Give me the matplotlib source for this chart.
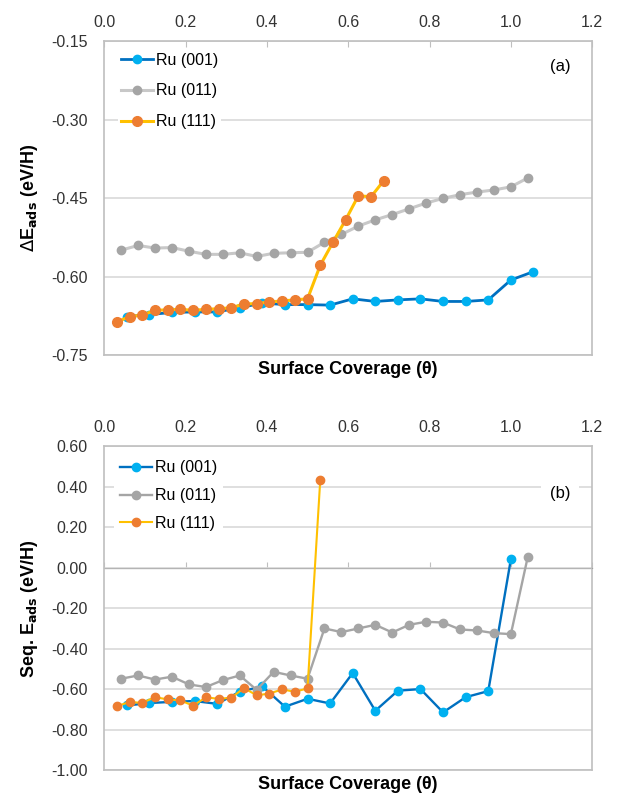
import numpy as np
import matplotlib
matplotlib.use("Agg")
from matplotlib import pyplot as plt

plt.rcParams['font.family'] = ['Liberation Sans', 'DejaVu Sans']

# (a) adsorption energy vs coverage
x001_a = np.arange(1, 20) / 18
x011_a = np.arange(1, 26) / 24
x111_a = np.arange(1, 23) / 32
e001_a = [-0.676, -0.672, -0.668, -0.667, -0.667, -0.659, -0.650, -0.653, -0.653, -0.654,
          -0.642, -0.647, -0.644, -0.642, -0.647, -0.647, -0.644, -0.606, -0.590]
e011_a = [-0.549, -0.540, -0.545, -0.544, -0.551, -0.557, -0.557, -0.554, -0.561, -0.555,
          -0.554, -0.553, -0.534, -0.519, -0.503, -0.491, -0.481, -0.470, -0.459, -0.450,
          -0.443, -0.438, -0.434, -0.428, -0.411]
e111_a = [-0.686, -0.676, -0.673, -0.664, -0.663, -0.662, -0.664, -0.662, -0.661, -0.659,
          -0.652, -0.651, -0.648, -0.646, -0.644, -0.642, -0.578, -0.534, -0.491, -0.445,
          -0.447, -0.416]

# (b) sequential adsorption energy
x001_b = np.arange(1, 19) / 18
x011_b = np.arange(1, 26) / 24
x111_b = np.arange(1, 18) / 32
e001_b = [-0.680, -0.668, -0.662, -0.658, -0.672, -0.612, -0.586, -0.686, -0.647, -0.670,
          -0.520, -0.706, -0.607, -0.599, -0.714, -0.639, -0.609, 0.041]
e011_b = [-0.548, -0.532, -0.552, -0.538, -0.576, -0.589, -0.555, -0.532, -0.603, -0.514,
          -0.532, -0.548, -0.300, -0.318, -0.300, -0.282, -0.320, -0.282, -0.267, -0.271,
          -0.305, -0.310, -0.323, -0.328, 0.054]
e111_b = [-0.683, -0.663, -0.667, -0.639, -0.650, -0.655, -0.681, -0.640, -0.647, -0.642,
          -0.594, -0.630, -0.621, -0.601, -0.612, -0.596, 0.430]

labels = ["Ru (001)", "Ru (011)", "Ru (111)"]

fig = plt.figure(figsize=(6.43, 7.95), dpi=100)
ax1 = fig.add_axes([0.162, 0.553, 0.759, 0.395])
ax2 = fig.add_axes([0.162, 0.031, 0.759, 0.408])

border = "#BFBFBF"
gridc = "#D9D9D9"


def fmt(v):
    s = "%.2f" % v
    return "0.00" if s == "-0.00" else s


def style(ax, ylo, yhi, step):
    ax.set_xlim(0, 1.2)
    ax.set_ylim(ylo, yhi)
    yt = np.arange(ylo, yhi + step / 2, step)
    ax.set_xticks(np.arange(0, 1.21, 0.2))
    ax.set_yticks(yt)
    ax.set_yticklabels([fmt(v) for v in yt])
    ax.set_xticklabels(["%.1f" % v for v in np.arange(0, 1.21, 0.2)])
    ax.xaxis.tick_top()
    ax.tick_params(axis='y', length=0, pad=12, labelsize=11.5, labelcolor='#333333')
    ax.grid(axis='y', color=gridc, linewidth=1.2)
    ax.set_axisbelow(True)
    for s in ax.spines.values():
        s.set_color(border)
        s.set_linewidth(1.2)
    ax.set_xlabel("Surface Coverage (θ)", fontsize=13, fontweight='bold')


style(ax1, -0.75, -0.15, 0.15)
ax1.tick_params(axis='x', direction='in', length=4, color=border, pad=8,
                labelsize=11.5, labelcolor='#333333')

ax1.plot(x001_a, e001_a, color="#0070C0", lw=2, marker='o', ms=6,
         mfc="#00B0F0", mec="#00B0F0", label=labels[0])
ax1.plot(x011_a, e011_a, color="#C8C8C8", lw=2.2, marker='o', ms=6,
         mfc="#A5A5A5", mec="#A5A5A5", label=labels[1])
ax1.plot(x111_a, e111_a, color="#FFC000", lw=2.2, marker='o', ms=7,
         mfc="#ED7D31", mec="#ED7D31", label=labels[2])
ax1.set_ylabel(r"$\Delta$E$_{\mathbf{ads}}$ (eV/H)", fontsize=13, fontweight='bold',
               labelpad=8)
ax1.legend(loc='upper left', bbox_to_anchor=(0.012, 1.0), fontsize=11.5,
           frameon=True, framealpha=1, edgecolor='none', handlelength=2.0,
           handletextpad=0.15, labelspacing=1.0, borderpad=0.2)
ax1.text(0.955, 0.92, "(a)", transform=ax1.transAxes, fontsize=12,
         ha='right', va='center')

style(ax2, -1.0, 0.6, 0.2)
ax2.tick_params(axis='x', length=0, pad=8, labelsize=11.5, labelcolor='#333333')
ax2.plot(x001_b, e001_b, color="#0070C0", lw=1.7, marker='o', ms=6,
         mfc="#00B0F0", mec="#00B0F0", label=labels[0])
ax2.plot(x011_b, e011_b, color="#A5A5A5", lw=1.7, marker='o', ms=6,
         mfc="#A5A5A5", mec="#A5A5A5", label=labels[1])
ax2.plot(x111_b, e111_b, color="#FFC000", lw=1.5, marker='o', ms=6,
         mfc="#ED7D31", mec="#ED7D31", label=labels[2])
ax2.set_ylabel(r"Seq. E$_{\mathbf{ads}}$ (eV/H)", fontsize=13, fontweight='bold',
               labelpad=8)
ax2.legend(loc='upper left', bbox_to_anchor=(0.004, 1.0), fontsize=11.5,
           frameon=True, framealpha=1, edgecolor='none', handlelength=2.0,
           handletextpad=0.15, labelspacing=0.8, borderpad=0.4)
ax2.text(0.955, 0.855, "(b)", transform=ax2.transAxes, fontsize=12,
         ha='right', va='center',
         bbox=dict(facecolor='white', edgecolor='none', pad=6))

# x axis crossing at zero in (b)
ylo, yhi = ax2.get_ylim()
sec = ax2.secondary_xaxis((0 - ylo) / (yhi - ylo))
sec.set_xticks(np.arange(0, 1.21, 0.2))
sec.xaxis.set_ticklabels([])
sec.tick_params(direction='out', length=4, color=border)
sec.spines['bottom'].set_visible(False)

fig.savefig("out.png", dpi=100)
